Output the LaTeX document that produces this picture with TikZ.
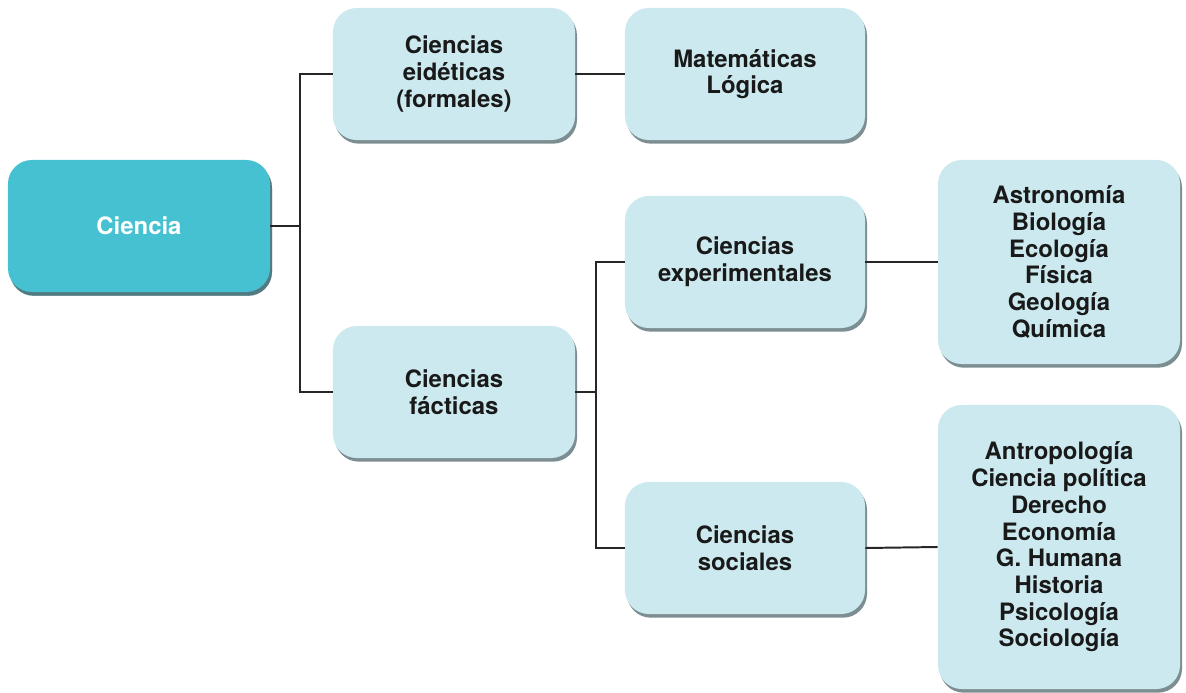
\documentclass[tikz,border=0pt]{standalone}
\usepackage{fontspec}
\setmainfont{TeX Gyre Heros}
\usetikzlibrary{shadows}

\definecolor{cajaclara}{HTML}{CBE9EE}
\definecolor{cajaoscura}{HTML}{46C1D2}
\definecolor{sombra}{HTML}{6F8286}

\begin{document}
\begin{tikzpicture}[x=0.025cm, y=-0.025cm,
  caja/.style={rounded corners=17pt, fill=cajaclara, align=center,
    font=\fontsize{17}{19}\selectfont\bfseries, text=black!90,
    minimum width=6.05cm, minimum height=3.3cm,
    drop shadow={shadow xshift=1.4pt, shadow yshift=-2.6pt, fill=sombra, opacity=0.9}},
  linea/.style={line width=1.4pt, black!85}]

\useasboundingbox (0,0) rectangle (1186,692);

% Raiz
\node[caja, fill=cajaoscura, text=white, minimum width=6.55cm, minimum height=3.3cm,
  drop shadow={shadow xshift=1.4pt, shadow yshift=-2.8pt, fill=cajaoscura!55!black}]
  (ciencia) at (139,226) {Ciencia};

% Primer nivel
\node[caja] (eideticas) at (454,74) {Ciencias\\eidéticas\\(formales)};
\node[caja] (facticas) at (454,392) {Ciencias\\fácticas};

% Segundo nivel
\node[caja, minimum width=6.0cm] (formales) at (745,74) {Matemáticas\\Lógica};
\node[caja, minimum width=6.0cm] (experimentales) at (745,262) {Ciencias\\experimentales};
\node[caja, minimum width=6.0cm] (sociales) at (745,548) {Ciencias\\sociales};

% Disciplinas
\node[caja, minimum height=5.1cm] (naturales) at (1059,262)
  {Astronomía\\Biología\\Ecología\\Física\\Geología\\Química};
\node[caja, minimum height=7.1cm] (humanas) at (1059,547)
  {Antropología\\Ciencia política\\Derecho\\Economía\\G. Humana\\Historia\\Psicología\\Sociología};

% Conectores
\coordinate (j1) at (300,226);
\coordinate (j2) at (596,392);
\draw[linea] (ciencia.east) -- (j1);
\draw[linea] (j1) |- (eideticas.west);
\draw[linea] (j1) |- (facticas.west);
\draw[linea] (eideticas.east) -- (formales.west);
\draw[linea] (facticas.east) -- (j2);
\draw[linea] (j2) |- (experimentales.west);
\draw[linea] (j2) |- (sociales.west);
\draw[linea] (experimentales.east) -- (naturales.west);
\draw[linea] (sociales.east) -- (humanas.west);

\end{tikzpicture}
\end{document}
